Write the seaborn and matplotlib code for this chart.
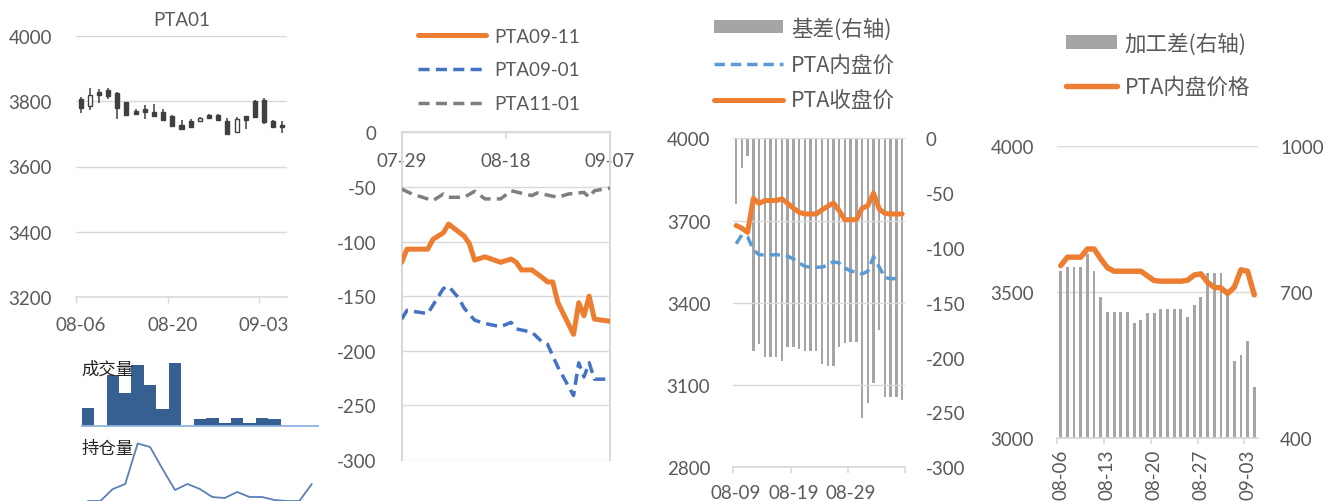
import numpy as np
import pandas as pd
import matplotlib
matplotlib.use("Agg")
import matplotlib.pyplot as plt
from matplotlib.patches import Patch
from matplotlib.lines import Line2D
from matplotlib.ticker import FixedLocator
import matplotlib.dates as mdates
import seaborn as sns

# ---------------- data ----------------
# Panel 1: PTA01 daily candles
candle_dates = ["08-06", "08-07", "08-08", "08-09", "08-10",
                "08-13", "08-14", "08-15", "08-16", "08-17",
                "08-20", "08-21", "08-22", "08-23", "08-24",
                "08-27", "08-28", "08-29", "08-30", "08-31",
                "09-03", "09-04", "09-05"]
candle_open = [3807, 3786, 3829, 3836, 3825, 3797, 3771, 3776, 3766, 3766, 3754, 3727,
               3738, 3738, 3758, 3757, 3740, 3705, 3754, 3802, 3805, 3740, 3728]
candle_close = [3778, 3819, 3819, 3816, 3778, 3758, 3761, 3766, 3756, 3743, 3723, 3716,
                3720, 3750, 3748, 3742, 3701, 3746, 3744, 3751, 3735, 3722, 3720]
candle_high = [3812, 3840, 3838, 3840, 3829, 3799, 3777, 3788, 3792, 3777, 3757, 3741,
               3746, 3752, 3760, 3762, 3748, 3752, 3756, 3804, 3809, 3742, 3740]
candle_low = [3764, 3774, 3795, 3807, 3746, 3756, 3757, 3746, 3756, 3741, 3720, 3715,
              3717, 3736, 3746, 3738, 3697, 3703, 3715, 3750, 3731, 3720, 3703]
candle_ticks = ["08-06", "08-20", "09-03"]

# mini charts under panel 1 (no axis scale shown)
volume = [18, 0, 51, 33, 61, 41, 17, 63, 0, 7, 8, 2.5, 8, 2.5, 8, 7, 0, 0, 0]
open_interest = [8, 8, 20, 25, 65.5, 62, 40, 19, 25, 20, 12, 11, 17, 12, 12, 9, 8, 8, 25]

# Panel 2: calendar spreads
s0911_dates = ["07-29", "07-30", "08-03", "08-04", "08-06", "08-07", "08-10", "08-11", "08-12",
               "08-14", "08-17", "08-19", "08-20", "08-21", "08-23", "08-25", "08-26", "08-27",
               "08-28", "08-31", "09-01", "09-02", "09-03", "09-04", "09-07"]
s0911 = [-119, -107, -107, -98, -92, -84, -95, -102, -117, -114, -119, -116, -119, -126,
         -126, -133, -137, -137, -156, -185, -156, -168, -150, -171, -173]
s0901_dates = ["07-29", "07-30", "08-03", "08-06", "08-07", "08-09", "08-10", "08-12", "08-14",
               "08-17", "08-19", "08-20", "08-23", "08-25", "08-26", "08-28", "08-31", "09-01",
               "09-02", "09-03", "09-04", "09-07"]
s0901 = [-171, -163, -166, -143, -141, -152, -161, -172, -175, -178, -174, -180, -183, -192,
         -194, -215, -241, -211, -224, -211, -226, -226]
s1101_dates = ["07-29", "07-31", "08-04", "08-06", "08-07", "08-10", "08-12", "08-14", "08-17",
               "08-19", "08-23", "08-24", "08-28", "08-30", "09-02", "09-03", "09-04", "09-07"]
s1101 = [-52, -56.5, -62.5, -56.5, -59.5, -59.5, -54, -61, -61, -53.5, -58, -55.5, -59.5,
         -56.5, -55, -59.5, -53.5, -51]
spread_ticks = ["07-29", "08-18", "09-07"]

# Panel 3: basis
p3_dates = pd.date_range("2018-08-09", "2018-09-07").strftime("%m-%d").tolist()
basis = [-60, -27, -16, -194, -188, -199, -199, -199, -203, -190, -190, -192, -194, -194, -194,
         -206, -208, -208, -190, -187, -186, -186, -255, -241, -223, -175, -236, -236, -236, -239]
pta_inner = [3615, 3648, 3640, 3594, 3575, 3575, 3575, 3575, 3575, 3570, 3560, 3545, 3533, 3530,
             3530, 3530, 3537, 3550, 3545, 3527, 3516, 3512, 3505, 3515, 3568, 3530, 3492, 3488,
             3488, 3488]
pta_close = [3682, 3672, 3657, 3781, 3762, 3773, 3773, 3773, 3779, 3763, 3745, 3730, 3724, 3724,
             3724, 3739, 3752, 3764, 3736, 3703, 3703, 3703, 3745, 3754, 3800, 3742, 3726, 3724,
             3724, 3724]

# Panel 4: processing margin
p4_dates = pd.date_range("2018-08-06", "2018-09-04").strftime("%m-%d").tolist()
margin = [744, 751, 751, 751, 778, 744, 689, 660, 660, 660, 660, 636, 643, 657, 657, 665, 665,
          665, 665, 648, 673, 689, 739, 739, 739, 696, 559, 571, 600, 506]
pta_price = [3590, 3619, 3619, 3619, 3647, 3647, 3613, 3583, 3571, 3571, 3571, 3571, 3571, 3555,
             3539, 3537, 3537, 3537, 3537, 3540, 3558, 3562, 3533, 3516, 3514, 3495, 3516, 3576,
             3571, 3490]

# ---------------- style ----------------
sns.set_theme(style="white")
plt.rcParams["font.family"] = ["Lato", "Noto Sans CJK SC", "DejaVu Sans"]
plt.rcParams["axes.unicode_minus"] = False

ORANGE = "#ED7D31"
BLUE2 = "#4472C4"
BLUE3 = "#5B9BD5"
GRAYL = "#7F7F7F"
BARG = "#A5A5A5"
GRID = "#D9D9D9"
TXT = "#595959"
CANDLE = "#404040"
VOLC = "#376092"
CJK = ["Noto Sans CJK SC", "DejaVu Sans"]
TS = 13.5

W, H = 1323, 502
fig = plt.figure(figsize=(W / 100, H / 100), dpi=100)
fig.patch.set_facecolor("white")


def rect(l, t, r, b):
    return [l / W, 1 - b / H, (r - l) / W, (b - t) / H]


def px2pt(p):
    return p * 72 / 100


def clean(ax):
    for s in ax.spines.values():
        s.set_visible(False)
    ax.set_xlabel("")
    ax.set_ylabel("")


def base_spine(ax, lw=1.3):
    ax.spines["bottom"].set_visible(True)
    ax.spines["bottom"].set_color(GRID)
    ax.spines["bottom"].set_linewidth(lw)


# ============ Panel 1: candles ============
ax1 = fig.add_axes(rect(76, 37, 287, 298))
clean(ax1)
idx = np.arange(len(candle_open))
o = np.array(candle_open, float)
c = np.array(candle_close, float)
up = c >= o
ax1.vlines(idx, candle_low, candle_high, color=CANDLE, lw=1.1, zorder=3)
ax1.bar(idx, np.abs(c - o), bottom=np.minimum(o, c), width=0.44,
        color=[("white" if u else CANDLE) for u in up], edgecolor=CANDLE, linewidth=1.0, zorder=4)
ax1.set_ylim(3200, 4000)
ax1.set_xlim(-0.5, len(idx) - 0.5)
ax1.set_yticks([3200, 3400, 3600, 3800, 4000])
ax1.yaxis.grid(True, color=GRID, lw=1.0)
ax1.set_axisbelow(True)
tick_pos = [candle_dates.index(t) for t in candle_ticks]
ax1.set_xticks(tick_pos)
ax1.set_xticklabels(candle_ticks)
ax1.xaxis.set_minor_locator(FixedLocator([p - 0.5 for p in tick_pos]))
ax1.tick_params(axis="x", which="major", length=0, pad=px2pt(19), labelsize=TS, labelcolor=TXT)
ax1.tick_params(axis="x", which="minor", bottom=True, length=px2pt(6), width=1, color=GRID)
ax1.tick_params(axis="y", length=0, pad=px2pt(24), labelsize=TS, labelcolor=TXT)
base_spine(ax1, 1.2)
ax1.set_title("PTA01", fontsize=TS, color=TXT, pad=px2pt(11))

# volume mini chart
axv = fig.add_axes(rect(81.7, 356.7, 318, 426.7))
clean(axv)
sns.barplot(x=np.arange(len(volume)), y=volume, native_scale=True, width=1.0, color=VOLC,
            saturation=1, errorbar=None, linewidth=0, ax=axv)
axv.set_xlim(-0.5, len(volume) - 0.5)
axv.set_ylim(0, 70)
axv.set_xticks([])
axv.set_yticks([])
axv.set_xlabel("")
axv.set_ylabel("")
axv.spines["bottom"].set_visible(True)
axv.spines["bottom"].set_color("#8DB4E2")
axv.spines["bottom"].set_linewidth(1.3)
axv.patch.set_alpha(0)
axv.text(0.0, 0.82, "成交量", transform=axv.transAxes, va="center", ha="left",
         fontsize=12.5, color="#222222", family=CJK, zorder=10)

# open interest mini chart
axo = fig.add_axes(rect(81.7, 440, 318, 510))
clean(axo)
sns.lineplot(x=np.arange(len(open_interest)), y=open_interest, color="#5B7FB8", lw=1.3, ax=axo)
axo.set_xlim(-0.5, len(open_interest) - 0.5)
axo.set_ylim(0, 70)
axo.set_xticks([])
axo.set_yticks([])
axo.set_xlabel("")
axo.set_ylabel("")
axo.patch.set_alpha(0)
axo.text(0.0, 0.871, "持仓量", transform=axo.transAxes, va="center", ha="left",
         fontsize=12.5, color="#222222", family=CJK, zorder=10)

# ============ Panel 2: spreads ============
ax2 = fig.add_axes(rect(401.7, 133.3, 610, 461))
clean(ax2)
to_dt = lambda lst: pd.to_datetime(["2018-" + d for d in lst])
DASH = [3.2, 1.8]
sns.lineplot(x=to_dt(s0911_dates), y=s0911, color=ORANGE, lw=3.6, ax=ax2, zorder=5)
l_0911 = ax2.lines[-1]
sns.lineplot(x=to_dt(s0901_dates), y=s0901, color=BLUE2, lw=2.5, ax=ax2, zorder=4)
l_0901 = ax2.lines[-1]
l_0901.set_dashes(DASH)
sns.lineplot(x=to_dt(s1101_dates), y=s1101, color=GRAYL, lw=2.5, ax=ax2, zorder=4)
l_1101 = ax2.lines[-1]
l_1101.set_dashes(DASH)
for ln in (l_0911, l_0901, l_1101):
    ln.set_solid_joinstyle("round")
    ln.set_dash_joinstyle("round")
ax2.set_xlabel("")
ax2.set_ylabel("")
ax2.set_ylim(-300, 0)
ax2.set_xlim(to_dt(spread_ticks)[0], to_dt(spread_ticks)[-1])
ax2.set_yticks(np.arange(-300, 1, 50))
ax2.yaxis.grid(True, color=GRID, lw=1.0)
ax2.set_axisbelow(True)
ax2.set_xticks(to_dt(spread_ticks))
ax2.xaxis.set_major_formatter(mdates.DateFormatter("%m-%d"))
ax2.xaxis.set_minor_locator(FixedLocator([]))
for s in ("left", "right", "bottom"):
    ax2.spines[s].set_visible(True)
    ax2.spines[s].set_color(GRID)
    ax2.spines[s].set_linewidth(1.5)
ax2.spines["bottom"].set_position(("data", 0))
ax2.tick_params(axis="x", which="major", bottom=True, direction="out", length=px2pt(7), width=1.2,
                color=GRID, pad=px2pt(13), labelsize=TS, labelcolor=TXT)
ax2.tick_params(axis="y", length=0, pad=px2pt(25), labelsize=TS, labelcolor=TXT)
h2 = [Line2D([], [], color=ORANGE, lw=3.6, solid_capstyle="round"),
      Line2D([], [], color=BLUE2, lw=2.5, dashes=DASH),
      Line2D([], [], color=GRAYL, lw=2.5, dashes=DASH)]
fig.legend(h2, ["PTA09-11", "PTA09-01", "PTA11-01"], loc="center left",
           bbox_to_anchor=(418 / W, 1 - 71 / H), frameon=False, fontsize=13.5,
           handlelength=3.65, handletextpad=0.4, labelspacing=0.9, borderpad=0,
           borderaxespad=0, labelcolor=TXT)

# ============ Panel 3: basis ============
ax3b = fig.add_axes(rect(733.3, 139.3, 905, 468.3))
clean(ax3b)
x3 = np.arange(len(p3_dates))
sns.barplot(x=x3, y=basis, native_scale=True, width=0.42, color=BARG, saturation=1,
            errorbar=None, linewidth=0, ax=ax3b)
ax3l = ax3b.twinx()
clean(ax3l)
sns.lineplot(x=x3, y=pta_inner, color=BLUE3, lw=2.5, ax=ax3l)
ax3l.lines[-1].set_dashes([3.0, 1.7])
sns.lineplot(x=x3, y=pta_close, color=ORANGE, lw=3.6, ax=ax3l)
for ln in ax3l.lines:
    ln.set_solid_joinstyle("round")
    ln.set_dash_joinstyle("round")
for a in (ax3b, ax3l):
    a.set_xlabel("")
    a.set_ylabel("")
    a.set_xlim(-0.5, len(x3) - 0.5)
ax3b.set_ylim(-300, 0)
ax3b.set_yticks(np.arange(-300, 1, 50))
ax3b.yaxis.tick_right()
ax3b.tick_params(axis="y", which="both", left=False, right=False, labelleft=False, labelright=True,
                 length=0, pad=px2pt(21), labelsize=TS, labelcolor=TXT)
ax3l.set_ylim(2800, 4000)
ax3l.set_yticks(np.arange(2800, 4001, 300))
ax3l.yaxis.tick_left()
ax3l.yaxis.grid(True, color=GRID, lw=1.0)
ax3l.tick_params(axis="y", which="both", left=False, right=False, labelleft=True, labelright=False,
                 length=0, pad=px2pt(23), labelsize=TS, labelcolor=TXT)
lab3 = [0, 10, 20]
ax3b.set_xticks(lab3)
ax3b.set_xticklabels([p3_dates[i] for i in lab3])
ax3b.xaxis.set_minor_locator(FixedLocator([-0.5, 9.5, 19.5, 29.5]))
ax3b.tick_params(axis="x", which="major", bottom=True, length=0, pad=px2pt(16.5), labelbottom=True,
                 labelsize=TS, labelcolor=TXT)
ax3b.tick_params(axis="x", which="minor", bottom=True, length=px2pt(6), width=1.2, color=GRID)
ax3l.tick_params(axis="x", which="both", bottom=False, top=False, labelbottom=False, labeltop=False)
base_spine(ax3b)
h3 = [Patch(facecolor=BARG, edgecolor="none"),
      Line2D([], [], color=BLUE3, lw=2.5, dashes=[3.0, 1.7]),
      Line2D([], [], color=ORANGE, lw=3.6, solid_capstyle="round")]
fig.legend(h3, ["基差(右轴)", "PTA内盘价", "PTA收盘价"], loc="center left",
           bbox_to_anchor=(714 / W, 1 - 65.5 / H), frameon=False,
           prop={"family": CJK, "size": 15.5}, handlelength=3.2, handleheight=0.55,
           handletextpad=0.38, labelspacing=0.66, borderpad=0, borderaxespad=0, labelcolor=TXT)

# ============ Panel 4: processing margin ============
ax4b = fig.add_axes(rect(1056.7, 146.7, 1258.3, 439.3))
clean(ax4b)
x4 = np.arange(len(p4_dates))
sns.barplot(x=x4, y=margin, native_scale=True, width=0.42, color=BARG, saturation=1,
            errorbar=None, linewidth=0, ax=ax4b)
ax4b.yaxis.grid(True, color=GRID, lw=1.0)
ax4b.set_axisbelow(True)
ax4l = ax4b.twinx()
clean(ax4l)
sns.lineplot(x=x4, y=pta_price, color=ORANGE, lw=3.9, ax=ax4l)
ax4l.lines[-1].set_solid_joinstyle("round")
for a in (ax4b, ax4l):
    a.set_xlabel("")
    a.set_ylabel("")
    a.set_xlim(-0.6, len(x4) - 0.4)
ax4b.set_ylim(400, 1000)
ax4b.set_yticks([400, 700, 1000])
ax4b.yaxis.tick_right()
ax4b.tick_params(axis="y", which="both", left=False, right=False, labelleft=False, labelright=True,
                 length=0, pad=px2pt(21.7), labelsize=TS, labelcolor=TXT)
ax4l.set_ylim(3000, 4000)
ax4l.set_yticks([3000, 3500, 4000])
ax4l.yaxis.tick_left()
ax4l.tick_params(axis="y", which="both", left=False, right=False, labelleft=True, labelright=False,
                 length=0, pad=px2pt(22.7), labelsize=TS, labelcolor=TXT)
lab4 = [0, 7, 14, 21, 28]
ax4b.set_xticks(lab4)
ax4b.set_xticklabels([p4_dates[i] for i in lab4], rotation=90, va="top", ha="center")
ax4b.xaxis.set_minor_locator(FixedLocator([-0.5, 6.5, 13.5, 20.5, 27.5]))
ax4b.tick_params(axis="x", which="major", bottom=True, length=0, pad=px2pt(10), labelbottom=True,
                 labelsize=TS, labelcolor=TXT)
ax4b.tick_params(axis="x", which="minor", bottom=True, length=px2pt(6), width=1.2, color=GRID)
ax4l.tick_params(axis="x", which="both", bottom=False, top=False, labelbottom=False, labeltop=False)
base_spine(ax4b)
h4 = [Patch(facecolor=BARG, edgecolor="none"),
      Line2D([], [], color=ORANGE, lw=3.9, solid_capstyle="round")]
fig.legend(h4, ["加工差(右轴)", "PTA内盘价格"], loc="center left",
           bbox_to_anchor=(1066 / W, 1 - 66 / H), frameon=False,
           prop={"family": CJK, "size": 15.5}, handlelength=2.35, handleheight=0.6,
           handletextpad=0.38, labelspacing=0.98, borderpad=0, borderaxespad=0, labelcolor=TXT)

fig.savefig("out.png", dpi=100, facecolor="white")
